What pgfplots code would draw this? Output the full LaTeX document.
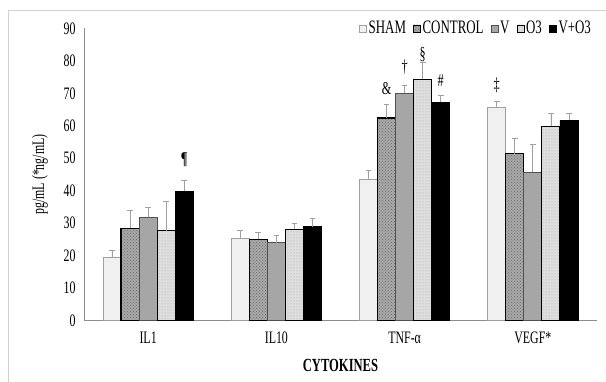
\documentclass[border=0pt]{standalone}
\usepackage{fontspec}
\setmainfont{Liberation Serif}[FakeStretch=0.68]
\usepackage{pgfplots}
\pgfplotsset{compat=1.18}
\usetikzlibrary{patterns}
\definecolor{shamfill}{HTML}{F0F0F0}
\definecolor{shamdraw}{HTML}{A0A0A0}
\definecolor{ctrlfill}{HTML}{A8A8A8}
\definecolor{ctrldot}{HTML}{6A6A6A}
\definecolor{vfill}{HTML}{A6A6A6}
\definecolor{vdraw}{HTML}{505050}
\definecolor{o3fill}{HTML}{DEDEDE}
\definecolor{o3dot}{HTML}{A8A8A8}
\definecolor{errc}{HTML}{A0A0A0}
\definecolor{axc}{HTML}{8C8C8C}

\pgfplotstableread{
x y e
0 19.5 2.1
1 25.2 2.5
2 43.4 2.8
3 65.7 1.7
}\sham
\pgfplotstableread{
x y e
0 28.4 5.4
1 25.0 2.2
2 62.4 4.3
3 51.4 4.6
}\control
\pgfplotstableread{
x y e
0 31.8 3.1
1 24.0 2.1
2 70.0 2.4
3 45.7 8.6
}\vv
\pgfplotstableread{
x y e
0 27.7 9.1
1 28.1 1.9
2 74.3 5.2
3 59.9 3.9
}\othree
\pgfplotstableread{
x y e
0 39.8 3.4
1 28.9 2.7
2 67.3 2.1
3 61.7 2.1
}\vothree

\begin{document}
\begin{tikzpicture}[x=1pt,y=1pt]
\useasboundingbox (0,0) rectangle (606,382);
\draw[black!18, line width=0.8pt] (8.3,0) -- (8.3,372) -- (606,372);
\begin{axis}[
  at={(84pt,61.3pt)}, anchor=south west,
  scale only axis, width=513pt, height=292.4pt,
  xmin=-0.5, xmax=3.5, ymin=0, ymax=90,
  axis x line*=bottom, axis y line*=left,
  axis line style={axc, line width=0.9pt},
  xtick={0,1,2,3}, xticklabels={IL1, IL10, TNF-α, VEGF*},
  ytick={0,10,...,90},
  major tick length=0pt,
  /pgf/number format/assume math mode=true,
  tick label style={font=\fontsize{17.5}{19}\selectfont},
  xticklabel style={anchor=center, yshift=-17.3pt},
  yticklabel style={anchor=east, xshift=-5pt},
  ylabel={pg/mL (*ng/mL)},
  ylabel style={at={(axis description cs:-0.0858,0.5)}, anchor=center, font=\fontsize{17.5}{19}\selectfont},
  xlabel={CYTOKINES},
  xlabel style={at={(axis description cs:0.5,-0.1515)}, anchor=center, font=\fontsize{18.5}{20}\selectfont\bfseries},
  ybar, bar width=0.141,
  legend columns=5,
  legend style={at={(axis cs:3.47,90)}, anchor=east, draw=none, fill=none,
    font=\fontsize{19}{21}\selectfont, /tikz/every even column/.append style={column sep=5pt},
    inner sep=0pt},
  legend image code/.code={\draw[#1, line width=0.6pt] (0pt,-3.5pt) rectangle (7pt,3.5pt);},
  error bars/y dir=plus, error bars/y explicit,
  error bars/error bar style={errc, line width=0.9pt},
  error bars/error mark options={rotate=90, mark size=2.8pt, errc, line width=0.9pt},
]
\addplot[bar shift=-0.282, fill=shamfill, draw=shamdraw, line width=0.8pt]
  table[x=x, y=y, y error=e] {\sham};
\addlegendentry{SHAM}
\addplot[bar shift=-0.141, fill=ctrlfill, draw=black, line width=1.1pt,
  postaction={pattern=crosshatch dots, pattern color=ctrldot}]
  table[x=x, y=y, y error=e] {\control};
\addlegendentry{CONTROL}
\addplot[bar shift=0, fill=vfill, draw=vdraw, line width=0.8pt]
  table[x=x, y=y, y error=e] {\vv};
\addlegendentry{V}
\addplot[bar shift=0.141, fill=o3fill, draw=black, line width=1.1pt,
  postaction={pattern=dots, pattern color=o3dot}]
  table[x=x, y=y, y error=e] {\othree};
\addlegendentry{O3}
\addplot[bar shift=0.282, fill=black, draw=black, line width=0.8pt]
  table[x=x, y=y, y error=e] {\vothree};
\addlegendentry{V+O3}
\node[font=\fontsize{18}{20}\selectfont\bfseries] at (axis cs:0.282,49.5) {¶};
\node[font=\fontsize{18}{20}\selectfont] at (axis cs:1.859,71.5) {\&};
\node[font=\fontsize{18}{20}\selectfont] at (axis cs:2,78) {†};
\node[font=\fontsize{18}{20}\selectfont] at (axis cs:2.141,82) {§};
\node[font=\fontsize{18}{20}\selectfont] at (axis cs:2.282,74) {\#};
\node[font=\fontsize{18}{20}\selectfont] at (axis cs:2.718,72.5) {‡};
\end{axis}
\end{tikzpicture}
\end{document}
